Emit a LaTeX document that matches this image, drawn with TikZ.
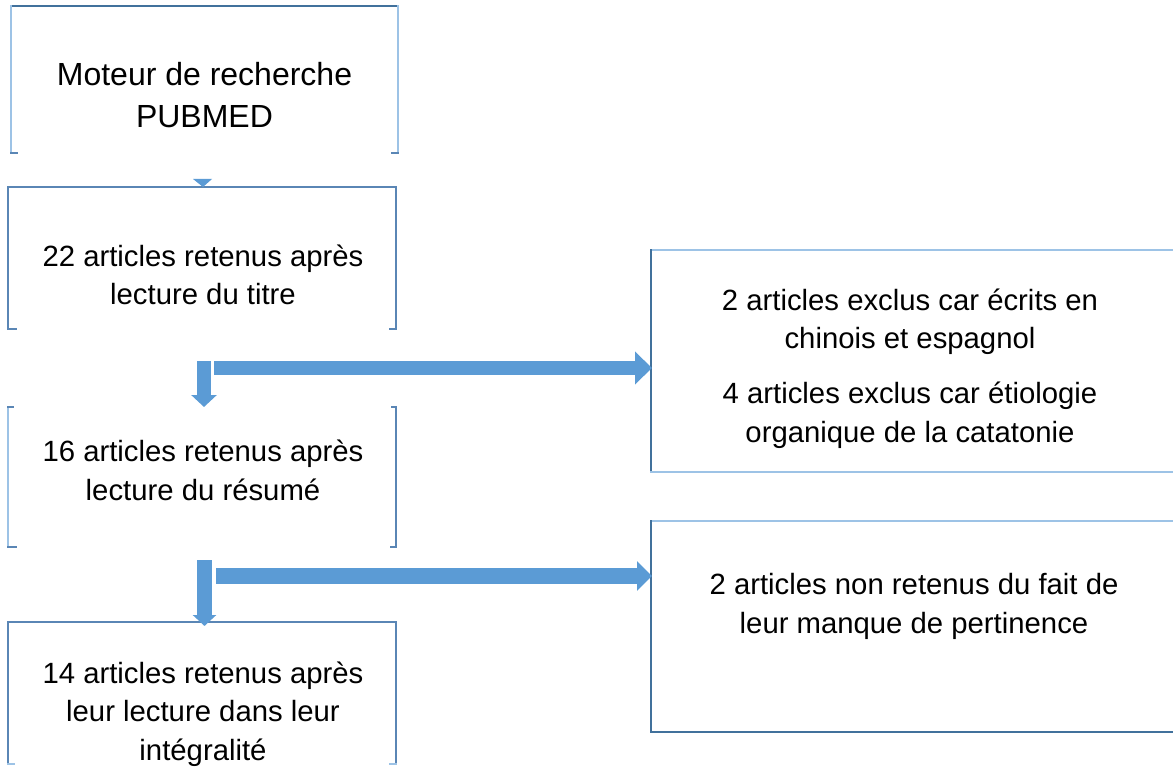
\documentclass[tikz,border=0pt]{standalone}
\usepackage{fontspec}
\setmainfont{Liberation Sans}
\usetikzlibrary{arrows.meta,calc}
\definecolor{edgedark}{HTML}{41719C}
\definecolor{edgemid}{HTML}{5A86B5}
\definecolor{edgelight}{HTML}{9DC3E6}
\definecolor{arrowblue}{HTML}{5B9BD5}
\tikzset{
  frame/.style={inner sep=0pt, outer sep=0pt, draw=none},
  edge/.style={line width=1.5pt, line cap=rect},
  txt/.style={inner sep=0pt, align=center, anchor=base, font=\fontsize{29.3}{38.3}\selectfont},
  bigtxt/.style={txt, font=\fontsize{32}{42}\selectfont},
  vblk/.style={draw=arrowblue, line width=14pt, -{Triangle[width=25pt,length=12pt]}},
  hblk/.style={draw=arrowblue, line width=14pt, -{Triangle[width=32pt,length=17pt]}},
}
\begin{document}
\begin{tikzpicture}[x=1pt,y=-1pt]
\useasboundingbox (0,0) rectangle (1173,767);
% box frames
\node[frame, minimum width=387pt, minimum height=147pt] (b1) at (204.5,79.5) {};
\node[frame, minimum width=388pt, minimum height=142pt] (b2) at (202,258) {};
\node[frame, minimum width=388pt, minimum height=140pt] (b3) at (202,477) {};
\node[frame, minimum width=388pt, minimum height=142pt] (b4) at (202,693) {};
\node[frame, minimum width=522pt, minimum height=222pt] (r1) at (912,361) {};
\node[frame, minimum width=522pt, minimum height=211pt] (r2) at (912,626.5) {};
% b1 borders
\draw[edge, edgedark] (b1.north west) -- (b1.north east);
\draw[edge, edgelight] (b1.north west) -- (b1.south west);
\draw[edge, edgelight] (b1.north east) -- (b1.south east);
\draw[edge, edgemid] (b1.south west) -- ++(6,0);
\draw[edge, edgemid] (b1.south east) -- ++(-6,0);
% b2 borders
\draw[edge, edgemid] (b2.south west) -- ++(8,0);
\draw[edge, edgemid] (b2.south west) -- (b2.north west) -- (b2.north east) -- (b2.south east) -- ++(-6,0);
% b3 borders
\draw[edge, edgelight] (b3.north west) -- (b3.south west);
\draw[edge, edgemid] (b3.north east) -- (b3.south east);
\draw[edge, edgemid] (b3.north west) -- ++(5,0);
\draw[edge, edgemid] (b3.north east) -- ++(-4,0);
\draw[edge, edgemid] (b3.south west) -- ++(8,0);
\draw[edge, edgemid] (b3.south east) -- ++(-5,0);
% b4 borders
\draw[edge, edgemid] (b4.south west) -- (b4.north west) -- (b4.north east) -- (b4.south east);
\draw[edge, edgelight] (b4.south west) -- ++(6,0);
\draw[edge, edgelight] (b4.south east) -- ++(-6,0);
% right boxes
\draw[edge, edgelight] (r1.north east) -- (r1.north west);
\draw[edge, edgedark] (r1.north west) -- (r1.south west);
\draw[edge, edgelight] (r1.south west) -- (r1.south east);
\draw[edge, edgelight] (r2.north east) -- (r2.north west);
\draw[edge, edgedark] (r2.north west) -- (r2.south west) -- (r2.south east);
% texts (anchor = baseline of last line)
\node[bigtxt] (t1) at (204.5,128) {Moteur de recherche\\PUBMED};
\node[txt] (t2) at (203,305) {22 articles retenus après\\lecture du titre};
\node[txt] (t3) at (203,500) {16 articles retenus après\\lecture du résumé};
\node[txt] (t4) at (203,760) {14 articles retenus après\\leur lecture dans leur\\intégralité};
\node[txt] (t5) at (910,442) {2 articles exclus car écrits en\\chinois et espagnol\\[16.7pt]4 articles exclus car étiologie\\organique de la catatonie};
\node[txt] (t6) at (914,633) {2 articles non retenus du fait de\\leur manque de pertinence};
% arrow b1 -> b2 (head only)
\fill[arrowblue] ($(b2.north)+(-9,-8)$) -- ($(b2.north)+(10,-8)$) -- ($(b2.north)+(1,0)$) -- cycle;
% b2 -> b3 and b2 -> r1
\coordinate (v1) at ($(b2.south)+(2,32)$);
\draw[vblk] (v1) -- (v1 |- b3.north);
\coordinate (h1) at (214,368);
\draw[hblk] (h1) -- ($(h1 -| r1.west)+(1,0)$);
% b3 -> b4 and b3 -> r2
\coordinate (v2) at ($(b3.south)+(2.5,13)$);
\draw[vblk, line width=15pt, -{Triangle[width=23pt,length=11pt]}] (v2) -- ($(v2 |- b4.north)+(0,4)$);
\coordinate (h2) at (216,576);
\draw[hblk, line width=16pt, -{Triangle[width=29pt,length=15pt]}] (h2) -- ($(h2 -| r2.west)+(1,0)$);
\end{tikzpicture}
\end{document}
